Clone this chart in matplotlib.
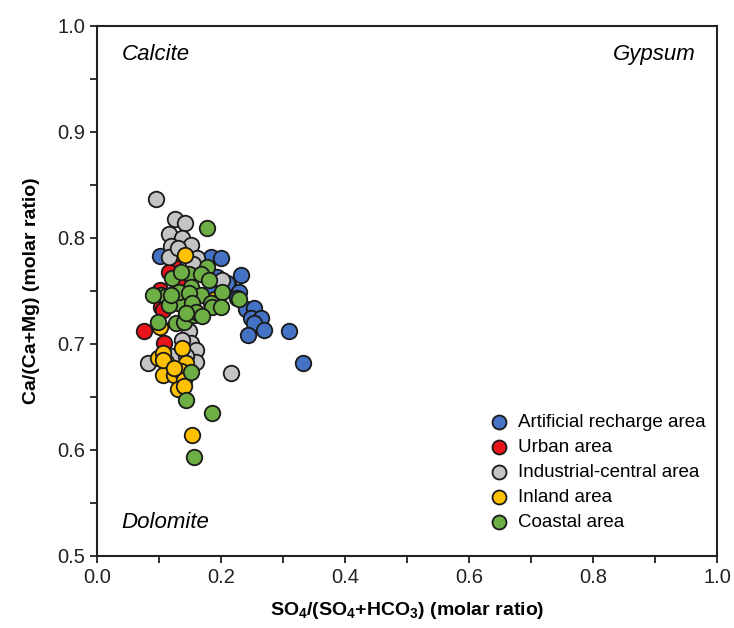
import matplotlib.pyplot as plt
import numpy as np

plt.rcParams['font.family'] = ['Liberation Sans', 'DejaVu Sans']
plt.rcParams['mathtext.fontset'] = 'custom'
plt.rcParams['mathtext.rm'] = 'Liberation Sans:bold'
plt.rcParams['mathtext.bf'] = 'Liberation Sans:bold'
plt.rcParams['mathtext.default'] = 'bf'

# SO4/(SO4+HCO3) and Ca/(Ca+Mg) for each groundwater group
recharge_x = [0.101, 0.184, 0.200, 0.162, 0.170, 0.194, 0.233, 0.186, 0.213, 0.210,
              0.229, 0.226, 0.240, 0.254, 0.248, 0.264, 0.253, 0.270, 0.244, 0.310,
              0.333, 0.183, 0.149, 0.136]
recharge_y = [0.783, 0.782, 0.781, 0.772, 0.770, 0.763, 0.765, 0.753, 0.754, 0.757,
              0.749, 0.743, 0.733, 0.734, 0.724, 0.724, 0.720, 0.713, 0.708, 0.712,
              0.682, 0.748, 0.760, 0.742]

urban_x = [0.125, 0.101, 0.104, 0.106, 0.076, 0.109, 0.138, 0.117]
urban_y = [0.772, 0.751, 0.735, 0.732, 0.712, 0.701, 0.759, 0.768]

industrial_x = [0.096, 0.126, 0.142, 0.117, 0.137, 0.152, 0.120, 0.117, 0.162, 0.201,
                0.149, 0.152, 0.160, 0.082, 0.122, 0.160, 0.216, 0.138, 0.125, 0.144,
                0.130, 0.155]
industrial_y = [0.837, 0.818, 0.814, 0.804, 0.800, 0.793, 0.792, 0.782, 0.781, 0.760,
                0.712, 0.701, 0.694, 0.682, 0.680, 0.683, 0.672, 0.704, 0.688, 0.688,
                0.790, 0.775]

inland_x = [0.142, 0.138, 0.098, 0.112, 0.144, 0.106, 0.125, 0.136, 0.141, 0.130,
            0.141, 0.154, 0.190, 0.101, 0.106, 0.106, 0.125]
inland_y = [0.784, 0.696, 0.687, 0.683, 0.682, 0.671, 0.671, 0.674, 0.666, 0.657,
            0.660, 0.614, 0.742, 0.716, 0.691, 0.685, 0.677]

coastal_x = [0.177, 0.178, 0.121, 0.149, 0.168, 0.181, 0.104, 0.152, 0.168, 0.202,
             0.130, 0.184, 0.098, 0.128, 0.141, 0.157, 0.152, 0.144, 0.186, 0.157,
             0.229, 0.185, 0.200, 0.136, 0.133, 0.111, 0.149, 0.117, 0.154, 0.160,
             0.170, 0.090, 0.143, 0.120]
coastal_y = [0.809, 0.772, 0.762, 0.766, 0.766, 0.760, 0.746, 0.754, 0.746, 0.749,
             0.738, 0.738, 0.721, 0.720, 0.721, 0.727, 0.673, 0.647, 0.635, 0.593,
             0.742, 0.735, 0.735, 0.768, 0.749, 0.745, 0.748, 0.737, 0.738, 0.730,
             0.726, 0.746, 0.729, 0.746]

groups = [
    ('Artificial recharge area', recharge_x, recharge_y, '#4472C4'),
    ('Urban area', urban_x, urban_y, '#E8131B'),
    ('Industrial-central area', industrial_x, industrial_y, '#C4C4C4'),
    ('Inland area', inland_x, inland_y, '#FFC000'),
    ('Coastal area', coastal_x, coastal_y, '#6DAE45'),
]

fig = plt.figure(figsize=(7.34, 6.28), dpi=100)
ax = fig.add_axes([0.132, 0.115, 0.845, 0.844])

for name, xs, ys, col in groups:
    ax.scatter(xs, ys, s=125, c=col, edgecolors='#1a1a1a', linewidths=1.3,
               label=name, zorder=3)

ax.set_xlim(0, 1)
ax.set_ylim(0.5, 1.0)
ax.set_xticks(np.arange(0, 1.01, 0.2))
ax.set_xticks(np.arange(0, 1.01, 0.1), minor=True)
ax.set_yticks(np.arange(0.5, 1.01, 0.1))
ax.set_yticks(np.arange(0.5, 1.01, 0.05), minor=True)
ax.xaxis.set_major_formatter(plt.FormatStrFormatter('%.1f'))
ax.yaxis.set_major_formatter(plt.FormatStrFormatter('%.1f'))
ax.tick_params(which='both', direction='out', length=5, width=1.3, labelsize=14.5,
               colors='#222222')
for sp in ax.spines.values():
    sp.set_linewidth(1.5)
    sp.set_color('#222222')

ax.set_xlabel('SO$_4$/(SO$_4$+HCO$_3$) (molar ratio)', fontsize=14,
              fontweight='bold', labelpad=10)
ax.set_ylabel('Ca/(Ca+Mg) (molar ratio)', fontsize=14, fontweight='bold',
              labelpad=12)

ax.text(0.04, 0.973, 'Calcite', fontsize=16, style='italic', ha='left', va='center')
ax.text(0.965, 0.973, 'Gypsum', fontsize=16, style='italic', ha='right', va='center')
ax.text(0.04, 0.531, 'Dolomite', fontsize=16, style='italic', ha='left', va='center')

ax.legend(loc='lower right', bbox_to_anchor=(1.0, 0.025), frameon=False,
          fontsize=13.5, handletextpad=0.05, labelspacing=0.42, markerscale=0.9,
          borderaxespad=0.2)

fig.savefig('out.png', dpi=100)
